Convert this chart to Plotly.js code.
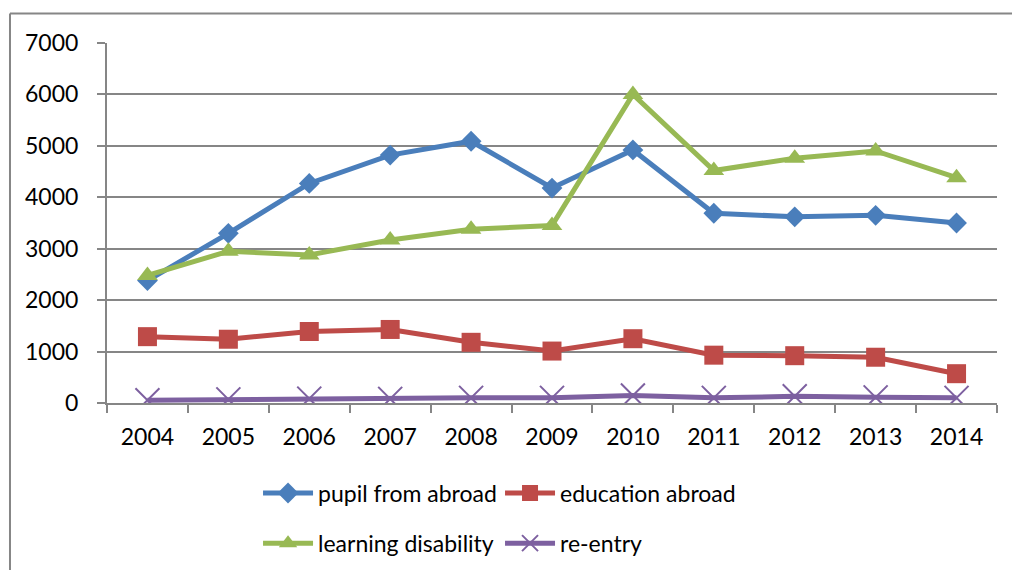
<!DOCTYPE html>
<html>
<head>
<meta charset="utf-8">
<script src="https://cdn.plot.ly/plotly-3.0.1.min.js"></script>
<style>html,body{margin:0;padding:0;background:#fff;}#chart{width:1012px;height:570px;}</style>
</head>
<body>
<div id="chart"></div>
<script>
var years = ["2004","2005","2006","2007","2008","2009","2010","2011","2012","2013","2014"];
var pupilFromAbroad = [2380, 3300, 4270, 4820, 5090, 4180, 4920, 3690, 3620, 3650, 3500];
var educationAbroad = [1290, 1240, 1390, 1430, 1180, 1010, 1250, 930, 920, 890, 570];
var learningDisability = [2480, 2950, 2880, 3170, 3380, 3450, 6000, 4520, 4760, 4900, 4380];
var reEntry = [55, 70, 85, 80, 100, 100, 145, 100, 130, 110, 100];
var yTicks = [0, 1000, 2000, 3000, 4000, 5000, 6000, 7000];

var font = "Lato, 'Open Sans', sans-serif";
var traces = [
  {x: years, y: pupilFromAbroad, name: "pupil from abroad", type: "scatter", mode: "lines+markers",
   line: {color: "#4A7EBB", width: 5}, marker: {symbol: "diamond", size: 16, color: "#4A7EBB"}, legend: "legend"},
  {x: years, y: educationAbroad, name: "education abroad", type: "scatter", mode: "lines+markers",
   line: {color: "#BE4B48", width: 5}, marker: {symbol: "square", size: 19, color: "#BE4B48"}, legend: "legend2"},
  {x: years, y: learningDisability, name: "learning disability", type: "scatter", mode: "lines+markers",
   line: {color: "#98B954", width: 5}, marker: {symbol: "triangle-up", size: 18, color: "#98B954"}, legend: "legend3"},
  {x: years, y: reEntry, name: "re-entry", type: "scatter", mode: "lines+markers",
   line: {color: "#7D60A0", width: 5}, marker: {symbol: "x-thin-open", size: 24, color: "#7D60A0", line: {color: "#7D60A0", width: 2}}, legend: "legend4"}
];

function leg(x, y) {
  return {orientation: "h", xanchor: "left", yanchor: "middle", x: x, y: y, yref: "container",
    font: {family: font, size: 23, color: "#000"}, itemwidth: 50, bgcolor: "rgba(0,0,0,0)"};
}

var layout = {
  width: 1012, height: 570,
  margin: {l: 107, r: 15, t: 43, b: 167, autoexpand: false},
  paper_bgcolor: "#fff", plot_bgcolor: "#fff",
  font: {family: font, size: 23, color: "#000"},
  showlegend: true,
  xaxis: {type: "category", range: [-0.5, 10.5], showgrid: false, showline: true, linecolor: "#868686", linewidth: 2,
    ticks: "outside", tickson: "boundaries", ticklen: 8, tickcolor: "#868686", tickwidth: 2, ticklabelstandoff: 12,
    tickfont: {family: font, size: 23, color: "#000"}, zeroline: false, fixedrange: true, automargin: false},
  yaxis: {range: [0, 7000], tickvals: yTicks, ticktext: yTicks.map(String), showgrid: true, gridcolor: "#868686", gridwidth: 2,
    showline: true, linecolor: "#868686", linewidth: 2, ticks: "outside", ticklen: 8, tickcolor: "#868686", tickwidth: 2,
    ticklabelstandoff: 14, tickfont: {family: font, size: 23, color: "#000"}, zeroline: false, fixedrange: true, automargin: false},
  legend: leg(0.1697, 0.135),
  legend2: leg(0.4416, 0.135),
  legend3: leg(0.1697, 0.047),
  legend4: leg(0.4416, 0.047),
  shapes: [
    {type: "line", xref: "paper", yref: "paper", x0: -0.109, x1: 1.2, y0: 1.0816, y1: 1.0816, line: {color: "#868686", width: 2}},
    {type: "line", xref: "paper", yref: "paper", x0: -0.109, x1: -0.109, y0: 1.0816, y1: -1, line: {color: "#868686", width: 2}}
  ]
};
Plotly.newPlot("chart", traces, layout, {staticPlot: true, displayModeBar: false});
</script>
</body>
</html>
